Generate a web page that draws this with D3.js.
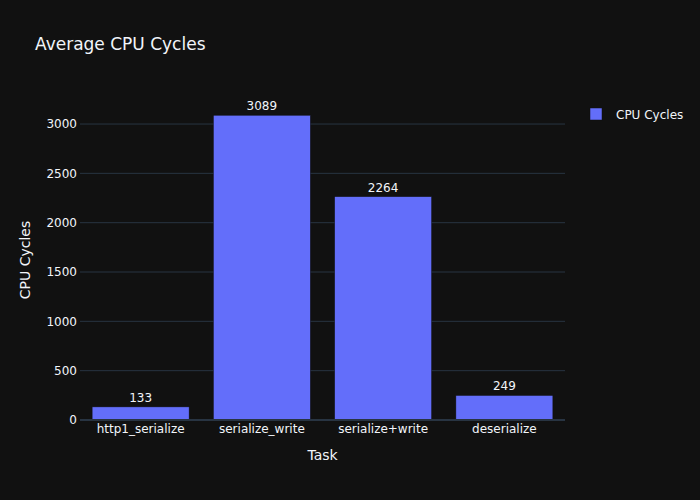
<!DOCTYPE html>
<html>
<head>
<meta charset="utf-8">
<script src="https://cdn.jsdelivr.net/npm/d3@7"></script>
<style>
  body { margin: 0; background: #111111; }
  text { font-family: "DejaVu Sans", sans-serif; fill: #f2f5fa; }
</style>
</head>
<body>
<svg id="chart"></svg>
<script>
// data
const tasks = ["http1_serialize", "serialize_write", "serialize+write", "deserialize"];
const cycles = [133, 3089, 2264, 249];
const yTicks = [0, 500, 1000, 1500, 2000, 2500, 3000];

const W = 700, H = 500;
var margin = {top: 100, right: 135, bottom: 80, left: 80},
    width = W - margin.left - margin.right,
    height = H - margin.top - margin.bottom;

var svg = d3.select("#chart")
  .attr("width", W)
  .attr("height", H);

svg.append("rect").attr("width", W).attr("height", H).attr("fill", "#111111");

var g = svg.append("g")
  .attr("transform", "translate(" + margin.left + "," + margin.top + ")");

var x = d3.scaleBand()
  .domain(tasks)
  .range([0, width])
  .paddingInner(0.2)
  .paddingOuter(0.1);

var y = d3.scaleLinear()
  .domain([0, d3.max(cycles) * 1.05])
  .range([height, 0]);

// grid lines
g.append("g")
  .selectAll("line")
  .data(yTicks.filter(function(d) { return d > 0; }))
  .enter()
  .append("line")
    .attr("x1", 0)
    .attr("x2", width)
    .attr("y1", function(d) { return y(d); })
    .attr("y2", function(d) { return y(d); })
    .attr("stroke", "#283442")
    .attr("stroke-width", 1);

// bars
g.append("g")
  .selectAll("rect")
  .data(tasks)
  .enter()
  .append("rect")
    .attr("x", function(d) { return x(d); })
    .attr("y", function(d, i) { return y(cycles[i]); })
    .attr("width", x.bandwidth())
    .attr("height", function(d, i) { return height - y(cycles[i]); })
    .attr("fill", "#636efa")
    .attr("stroke", "#111111")
    .attr("stroke-width", 0.5);

// zero line
g.append("line")
  .attr("x1", 0).attr("x2", width)
  .attr("y1", y(0)).attr("y2", y(0))
  .attr("stroke", "#283442")
  .attr("stroke-width", 2);

// value labels
g.append("g")
  .selectAll("text")
  .data(tasks)
  .enter()
  .append("text")
    .attr("x", function(d) { return x(d) + x.bandwidth() / 2; })
    .attr("y", function(d, i) { return y(cycles[i]) - 5; })
    .attr("text-anchor", "middle")
    .style("font-size", "12px")
    .text(function(d, i) { return cycles[i]; });

// y axis
var yAxis = g.append("g")
  .call(d3.axisLeft(y).tickValues(yTicks).tickFormat(d3.format("d")).tickSize(0).tickPadding(3));
yAxis.attr("font-family", null);
yAxis.select(".domain").remove();
yAxis.selectAll("text").style("font-size", "12px").attr("fill", "#f2f5fa");

// x axis
var xAxis = g.append("g")
  .attr("transform", "translate(0," + height + ")")
  .call(d3.axisBottom(x).tickSize(0).tickPadding(4));
xAxis.attr("font-family", null);
xAxis.select(".domain").remove();
xAxis.selectAll("text").style("font-size", "12px").attr("fill", "#f2f5fa");

// axis titles
svg.append("text")
  .attr("x", margin.left + width / 2)
  .attr("y", 460)
  .attr("text-anchor", "middle")
  .style("font-size", "14px")
  .text("Task");

svg.append("text")
  .attr("transform", "translate(30," + (margin.top + height / 2) + ")rotate(-90)")
  .attr("text-anchor", "middle")
  .style("font-size", "14px")
  .text("CPU Cycles");

// title
svg.append("text")
  .attr("x", 35)
  .attr("y", 50)
  .style("font-size", "17px")
  .text("Average CPU Cycles");

// legend
var legend = svg.append("g").attr("transform", "translate(590,114)");
legend.append("rect")
  .attr("x", 0).attr("y", -6)
  .attr("width", 12).attr("height", 12)
  .attr("fill", "#636efa")
  .attr("stroke", "#111111")
  .attr("stroke-width", 0.5);
legend.append("text")
  .attr("x", 26).attr("y", 4.5)
  .style("font-size", "12px")
  .text("CPU Cycles");
</script>
</body>
</html>
